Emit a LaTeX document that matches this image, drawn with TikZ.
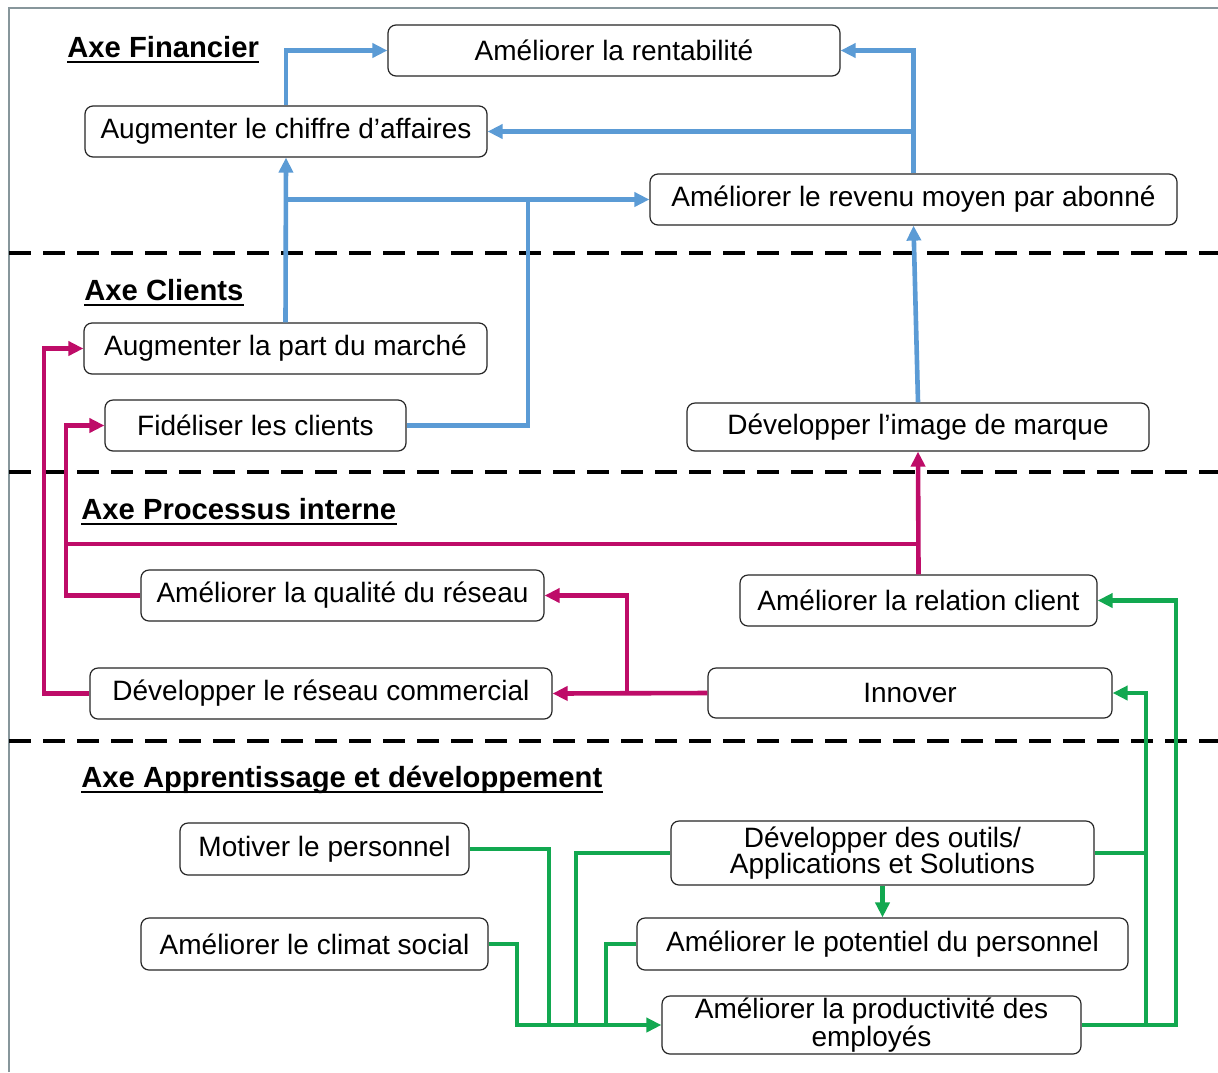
\documentclass[tikz,border=0pt]{standalone}
\usepackage{fontspec}
\setmainfont{Liberation Sans}
\usetikzlibrary{arrows.meta}

\definecolor{cblue}{RGB}{91,155,213}
\definecolor{cmag}{RGB}{190,12,104}
\definecolor{cgreen}{RGB}{18,168,80}
\definecolor{cframe}{RGB}{135,150,155}

% box given by its corners in pixel units (x right, y down)
\newcommand\objbox[6]{%
  \node[objective, minimum width={(#4-#2)*0.5pt}, minimum height={(#5-#3)*0.5pt}]
    (#1) at ({(#2+#4)/2},{(#3+#5)/2}) {#6};}
% underlined bold axis heading
\newcommand\axishead[4]{%
  \node[heading] (#1) at (#2,#3) {#4};
  \draw[line width=0.9pt] ([yshift=-2.6pt]#1.base west) -- ([yshift=-2.6pt]#1.base east);}

\begin{document}
\begin{tikzpicture}[x=0.5pt,y=-0.5pt,
  objective/.style={draw=black!85, line width=0.6pt, rounded corners=4pt, fill=white,
    inner sep=0pt, align=center, font=\fontsize{14}{13.2}\selectfont},
  heading/.style={anchor=base west, inner sep=0pt, font=\fontsize{14.6}{17}\selectfont\bfseries},
  link/.style={line width=2.3pt, line join=miter},
  tip/.style={-{Triangle[length=7.5pt,width=7pt]}},
  bluelink/.style={link, draw=cblue},
  maglink/.style={link, draw=cmag},
  greenlink/.style={link, draw=cgreen},
  divider/.style={line width=1.6pt, dash pattern=on 11pt off 6pt}]

\useasboundingbox (0,0) rectangle (1218,1072);
\fill[white] (0,0) rectangle (1218,1072);

% outer frame (top and left)
\draw[cframe, line width=1pt] (9,1072) -- (9,8) -- (1218,8);

% axis separators
\draw[divider] (9,253) -- (1218,253);
\draw[divider] (9,472) -- (1218,472);
\draw[divider] (9,741) -- (1218,741);

% axis headings
\axishead{hfin}{67}{57}{Axe Financier}
\axishead{hcli}{84}{300}{Axe Clients}
\axishead{hpro}{81}{519}{Axe Processus interne}
\axishead{happ}{81}{787}{Axe Apprentissage et développement}

% objectives
\objbox{rent}{388}{25}{840}{76}{Améliorer la rentabilité}
\objbox{ca}{85}{106}{487}{157}{Augmenter le chiffre d’affaires}
\objbox{rev}{650}{174}{1177}{225}{Améliorer le revenu moyen par abonné}
\objbox{part}{84}{323}{487}{374}{Augmenter la part du marché}
\objbox{fid}{105}{400}{406}{451}{Fidéliser les clients}
\objbox{img}{687}{403}{1149}{451}{Développer l’image de marque}
\objbox{qual}{141}{570}{544}{621}{Améliorer la qualité du réseau}
\objbox{rel}{740}{575}{1097}{626}{Améliorer la relation client}
\objbox{com}{90}{668}{552}{719}{Développer le réseau commercial}
\objbox{inn}{708}{668}{1112}{718}{Innover}
\objbox{mot}{180}{823}{469}{875}{Motiver le personnel}
\objbox{clim}{141}{918}{488}{970}{Améliorer le climat social}
\objbox{out}{671}{821}{1094}{885}{Développer des outils/\\Applications et Solutions}
\objbox{pot}{637}{918}{1128}{970}{Améliorer le potentiel du personnel}
\objbox{prod}{662}{996}{1081}{1054}{Améliorer la productivité des\\employés}

% junction points
\coordinate (bj) at (528,200);
\coordinate (mj1) at (66,544);
\coordinate (mj2) at (44,520);
\coordinate (mj3) at (627,693);
\coordinate (gj1) at (517,1025);
\coordinate (gj2) at (549,1025);
\coordinate (gj3) at (576,1025);
\coordinate (gj4) at (606,1025);
\coordinate (gj5) at (1146,1025);
\coordinate (gj6) at (1176,1025);

% financial links (blue)
\draw[bluelink, tip] (ca.north) |- (rent.west);
\draw[bluelink, tip] (rev.north) |- (rent.east);
\draw[bluelink, tip] (rev.north |- ca.east) -- (ca.east);
\draw[bluelink, tip] (part.north) -- (ca.south);
\draw[bluelink, tip] (part.north |- rev.west) -- (rev.west);
\draw[bluelink] (fid.east) -| (bj);
\draw[bluelink, tip] (img.north) -- (rev.south);

% process links (magenta)
\draw[maglink, tip] (rel.north) -- (img.south);
\draw[maglink] (rel.north |- mj1) -- (mj1);
\draw[maglink, tip] (qual.west) -| (mj1) |- (fid.west);
\draw[maglink, tip] (com.west) -| (mj2) |- (part.west);
\draw[maglink, tip] (inn.west) -- (com.east);
\draw[maglink, tip] (mj3) |- (qual.east);

% learning links (green)
\draw[greenlink, tip] (clim.east) -| (gj1) -- (prod.west);
\draw[greenlink] (mot.east) -| (gj2);
\draw[greenlink] (out.west) -| (gj3);
\draw[greenlink] (pot.west) -| (gj4);
\draw[greenlink, tip] (out.south) -- (pot.north);
\draw[greenlink, tip] (prod.east) -- (gj6) |- (rel.east);
\draw[greenlink, tip] (gj5) |- (inn.east);
\draw[greenlink] (out.east) -- (out.east -| gj5);

\end{tikzpicture}
\end{document}
